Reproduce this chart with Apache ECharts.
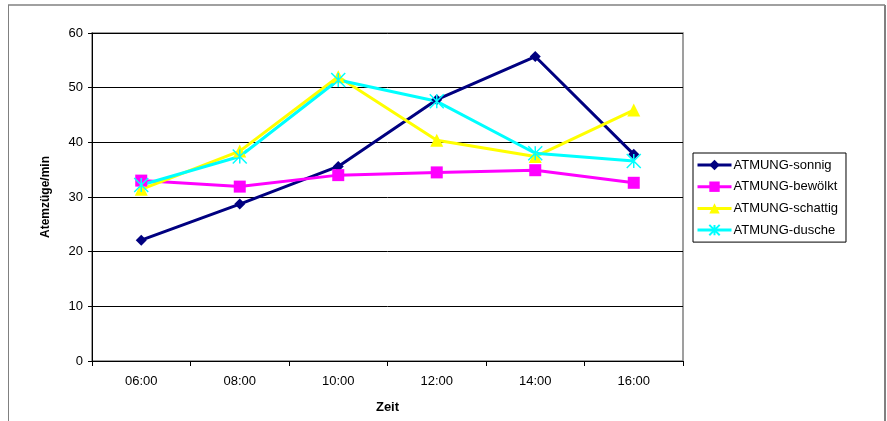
<!DOCTYPE html>
<html>
<head>
<meta charset="utf-8">
<script src="https://cdn.jsdelivr.net/npm/echarts@6/dist/echarts.min.js"></script>
<style>
  html, body { margin: 0; padding: 0; background: #fff; }
  #chart { width: 887px; height: 421px; }
</style>
</head>
<body>
<div id="chart"></div>
<script>
// Measurement times
const times = ['06:00', '08:00', '10:00', '12:00', '14:00', '16:00'];

// Breaths per minute for each condition
const sonnig   = [22.1, 28.7, 35.6, 47.8, 55.7, 37.8];
const bewoelkt = [33.0, 31.9, 34.0, 34.5, 34.9, 32.6];
const schattig = [31.4, 38.4, 52.0, 40.4, 37.4, 45.9];
const dusche   = [32.2, 37.4, 51.4, 47.5, 38.0, 36.6];

const seriesNames = ['ATMUNG-sonnig', 'ATMUNG-bewölkt', 'ATMUNG-schattig', 'ATMUNG-dusche'];

const FONT = '"Liberation Sans", Arial, sans-serif';

// asterisk marker: vertical stroke plus two diagonals
const asterisk = 'path://M5,0L5,10M0,0L10,10M10,0L0,10';

const chart = echarts.init(document.getElementById('chart'), null, { renderer: 'canvas' });

function lineSeries(name, data, color, symbol, size, extra) {
  return Object.assign({
    name: name,
    type: 'line',
    data: data,
    symbol: symbol,
    symbolSize: size,
    showAllSymbol: true,
    animation: false,
    lineStyle: { color: color, width: 3 },
    itemStyle: { color: color, borderColor: color, borderWidth: 0 }
  }, extra || {});
}

chart.setOption({
  backgroundColor: '#ffffff',
  textStyle: { fontFamily: FONT },
  graphic: [
    // outer chart frame
    { type: 'line', shape: { x1: 8, y1: 5, x2: 885, y2: 5 }, style: { stroke: '#808080', lineWidth: 1.5 } },
    { type: 'line', shape: { x1: 8.5, y1: 5, x2: 8.5, y2: 421 }, style: { stroke: '#808080', lineWidth: 1 } },
    { type: 'line', shape: { x1: 885, y1: 5, x2: 885, y2: 421 }, style: { stroke: '#808080', lineWidth: 2 } }
  ],
  grid: {
    left: 92, right: 204, top: 33, bottom: 60,
    show: true, borderColor: '#808080', borderWidth: 1.5, backgroundColor: '#ffffff'
  },
  legend: {
    orient: 'vertical',
    left: 693, top: 153,
    padding: [5.5, 8, 5.5, 3],
    itemWidth: 34, itemHeight: 13, itemGap: 8.7,
    borderColor: '#000', borderWidth: 1,
    lineStyle: { width: 3 },
    textStyle: { fontFamily: FONT, fontSize: 13, color: '#000', padding: [0, 0, 0, -3] },
    data: seriesNames
  },
  xAxis: {
    type: 'category',
    data: times,
    boundaryGap: true,
    name: 'Zeit',
    nameLocation: 'middle',
    nameGap: 40,
    nameTextStyle: { fontFamily: FONT, fontSize: 13, fontWeight: 'bold', color: '#000' },
    axisLine: { lineStyle: { color: '#000', width: 1 } },
    axisTick: { show: true, inside: false, length: 5, lineStyle: { color: '#000' } },
    axisLabel: { fontFamily: FONT, fontSize: 13, color: '#000', margin: 14 },
    splitLine: { show: false }
  },
  yAxis: {
    type: 'value',
    min: 0, max: 60, interval: 10,
    name: 'Atemzüge/min',
    nameLocation: 'middle',
    nameGap: 40,
    nameRotate: 90,
    nameTextStyle: { fontFamily: FONT, fontSize: 12, fontWeight: 'bold', color: '#000' },
    axisLine: { show: true, lineStyle: { color: '#000', width: 1 } },
    axisTick: { show: true, inside: false, length: 4, lineStyle: { color: '#000' } },
    axisLabel: { fontFamily: FONT, fontSize: 13, color: '#000', margin: 9 },
    splitLine: { show: true, lineStyle: { color: '#000', width: 1 } }
  },
  series: [
    lineSeries(seriesNames[0], sonnig, '#000080', 'diamond', 11),
    lineSeries(seriesNames[1], bewoelkt, '#ff00ff', 'rect', 12),
    lineSeries(seriesNames[2], schattig, '#ffff00', 'triangle', 13),
    lineSeries(seriesNames[3], dusche, '#00ffff', asterisk, 14, {
      itemStyle: { color: 'rgba(0,0,0,0)', borderColor: '#00ffff', borderWidth: 1.5 }
    })
  ]
});
</script>
</body>
</html>
